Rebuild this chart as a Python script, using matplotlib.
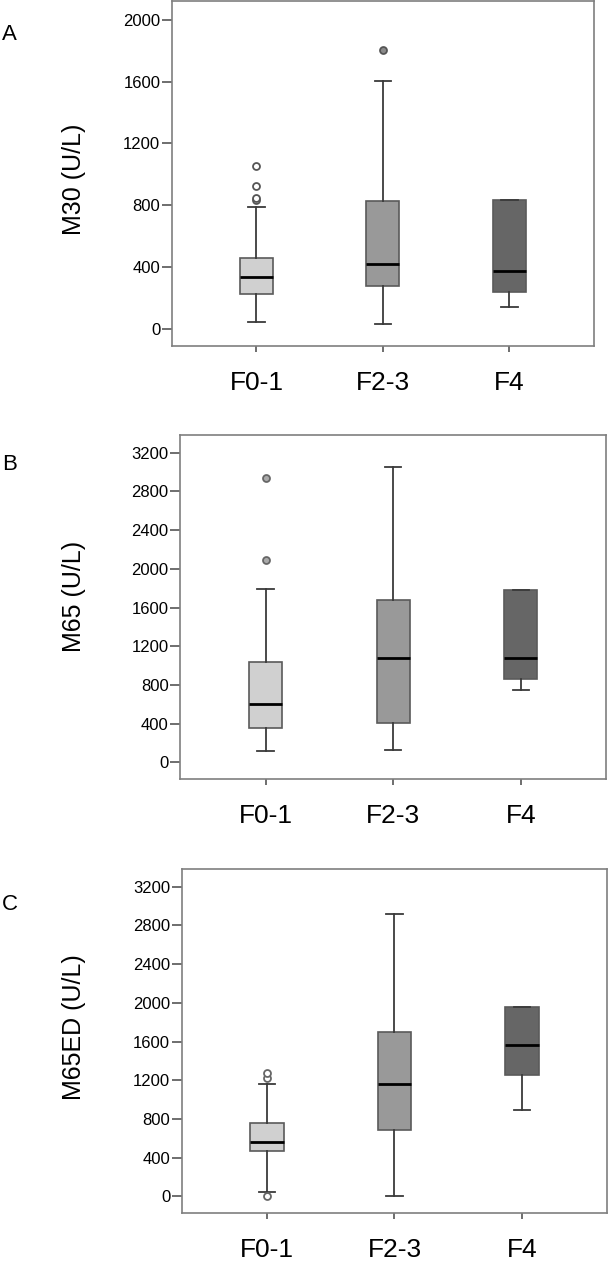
import matplotlib
matplotlib.use("Agg")
import matplotlib.pyplot as plt

plt.rcParams['font.family'] = ['Liberation Sans', 'DejaVu Sans']

groups = ["F0-1", "F2-3", "F4"]
box_colors = ["#d0d0d0", "#999999", "#666666"]

# five-number summaries: whislo, q1, median, q3, whishi
m30_stats = [[41, 228, 332, 461, 786], [32, 278, 422, 825, 1606], [144, 239, 372, 835, 835]]
m30_fliers = [[836, 845, 926, 1055], [1806], []]
m30_ticks = [0, 400, 800, 1200, 1600, 2000]

m65_stats = [[117, 351, 599, 1039, 1793], [124, 406, 1074, 1676, 3049], [743, 860, 1077, 1779, 1779]]
m65_fliers = [[2092, 2938], [], []]
m65_ticks = [0, 400, 800, 1200, 1600, 2000, 2400, 2800, 3200]

m65ed_stats = [[41, 472, 557, 758, 1160], [0, 681, 1160, 1700, 2914], [895, 1256, 1566, 1961, 1961]]
m65ed_fliers = [[7, 1225, 1277], [], []]
m65ed_ticks = [0, 400, 800, 1200, 1600, 2000, 2400, 2800, 3200]

# flier look per panel/group: (face, edge)
m30_flier_style = [("white", "#555555"), ("#8a8a8a", "#555555"), None]
m65_flier_style = [("#aaaaaa", "#666666"), None, None]
m65ed_flier_style = [("white", "#666666"), None, None]


def make_stats(stats, fliers):
    out = []
    for g, s, f in zip(groups, stats, fliers):
        out.append(dict(label=g, whislo=s[0], q1=s[1], med=s[2], q3=s[3], whishi=s[4], fliers=f))
    return out


def draw_panel(ax, stats, fliers, ticks, ylim, ylabel, label_xy, flier_style):
    bp = ax.bxp(make_stats(stats, fliers), positions=[1, 2, 3], widths=0.26, capwidths=0.13,
                patch_artist=True, showfliers=True,
                boxprops=dict(edgecolor="#5a5a5a", linewidth=1.2),
                medianprops=dict(color="black", linewidth=2.0),
                whiskerprops=dict(color="#3a3a3a", linewidth=1.3),
                capprops=dict(color="#3a3a3a", linewidth=1.3),
                flierprops=dict(marker="o", markersize=5, linestyle="none"))
    for patch, c in zip(bp['boxes'], box_colors):
        patch.set_facecolor(c)
    for fl, st in zip(bp['fliers'], flier_style):
        if st is not None:
            fl.set_markerfacecolor(st[0])
            fl.set_markeredgecolor(st[1])
            fl.set_markeredgewidth(1.3)

    ax.set_xlim(1 / 3, 11 / 3)
    ax.set_ylim(*ylim)
    ax.set_yticks(ticks)
    ax.set_xticks([1, 2, 3])
    ax.set_xticklabels(groups, fontsize=19)
    ax.tick_params(axis='y', labelsize=12, length=7.5, width=1.2, color="#555555", pad=1)
    ax.tick_params(axis='x', length=4.3, width=1.2, color="#555555", pad=14)
    for sp in ax.spines.values():
        sp.set_color("#7f7f7f")
        sp.set_linewidth(1.2)
    ax.set_ylabel(ylabel, fontsize=18)
    ax.yaxis.set_label_coords(*label_xy)


fig = plt.figure(figsize=(6.08, 12.62), dpi=100)
ax_a = fig.add_axes([0.283, 0.7258, 0.6935, 0.2734])
ax_b = fig.add_axes([0.2967, 0.3827, 0.6999, 0.2726])
ax_c = fig.add_axes([0.2993, 0.0388, 0.6990, 0.2726])

draw_panel(ax_a, m30_stats, m30_fliers, m30_ticks, (-112, 2123), "M30 (U/L)", (-0.204, 0.483), m30_flier_style)
draw_panel(ax_b, m65_stats, m65_fliers, m65_ticks, (-172, 3382), "M65 (U/L)", (-0.221, 0.53), m65_flier_style)
draw_panel(ax_c, m65ed_stats, m65ed_fliers, m65ed_ticks, (-172, 3382), "M65ED (U/L)", (-0.226, 0.54), m65ed_flier_style)

fig.text(2 / 608, 1 - 34 / 1262, "A", fontsize=16, va="center")
fig.text(2 / 608, 1 - 464 / 1262, "B", fontsize=16, va="center")
fig.text(2 / 608, 1 - 905 / 1262, "C", fontsize=16, va="center")

fig.savefig("out.png", dpi=100)
